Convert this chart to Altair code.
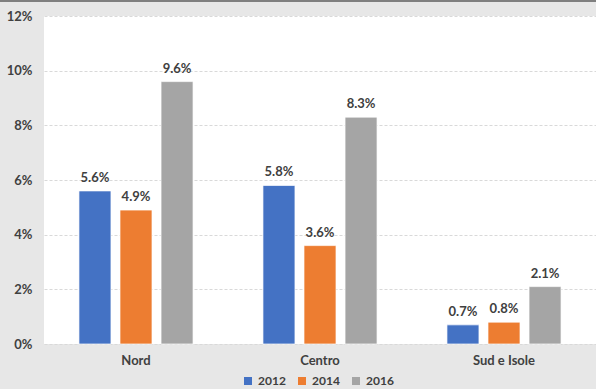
import altair as alt
import pandas as pd

regions = ["Nord", "Centro", "Sud e Isole"]
years = ["2012", "2014", "2016"]
v2012 = [5.6, 5.8, 0.7]
v2014 = [4.9, 3.6, 0.8]
v2016 = [9.6, 8.3, 2.1]
colors = ["#4472C4", "#ED7D31", "#A5A5A5"]

rows = []
for i, r in enumerate(regions):
    for y, vals in zip(years, [v2012, v2014, v2016]):
        rows.append({"region": r, "year": y, "value": vals[i] / 100.0,
                     "label": f"{vals[i]:.1f}%"})
df = pd.DataFrame(rows)

FONT = "Lato"
x = alt.X("region:N", sort=regions, title=None,
          scale=alt.Scale(paddingInner=0.38, paddingOuter=0.19),
          axis=alt.Axis(labelAngle=0, ticks=False, domain=False, labelPadding=10,
                        labelFont=FONT, labelFontSize=13, labelFontWeight="bold",
                        labelColor="#404040"))
xo = alt.XOffset("year:N", sort=years, scale=alt.Scale(paddingInner=0.22, paddingOuter=0))
y = alt.Y("value:Q", title=None,
          scale=alt.Scale(domain=[0, 0.12], nice=False),
          axis=alt.Axis(format=".0%", values=[0, 0.02, 0.04, 0.06, 0.08, 0.10, 0.12],
                        ticks=False, domain=False, labelPadding=12,
                        labelFont=FONT, labelFontSize=13, labelFontWeight="bold",
                        labelColor="#404040",
                        gridColor="#d9d9d9", gridDash=[3, 2], gridWidth=1))

base = alt.Chart(df)
bars = base.mark_bar(stroke="white", strokeWidth=0.7).encode(
    x=x, xOffset=xo, y=y,
    color=alt.Color("year:N", sort=years,
                    scale=alt.Scale(domain=years, range=colors),
                    legend=alt.Legend(title=None, orient="none", direction="horizontal",
                                      legendX=198, legendY=359, symbolType="square",
                                      symbolSize=64, symbolStrokeWidth=0,
                                      labelFont=FONT, labelFontSize=12,
                                      labelFontWeight="bold", labelColor="#404040",
                                      columnPadding=10, symbolOffset=0)))
text = base.mark_text(baseline="bottom", dy=-6, font=FONT, fontSize=13,
                      fontWeight="bold", color="#404040").encode(
    x=x, xOffset=xo, y=y, text="label:N")
border = alt.Chart(pd.DataFrame({"a": [0]})).mark_rule(color="#7f7f7f", strokeWidth=2).encode(
    x=alt.value(-44), x2=alt.value(560), y=alt.value(-15))

chart = alt.layer(bars, text, border).properties(
    width=552, height=328,
    background="#e7e7e7",
    padding={"left": 44, "top": 16, "right": 0, "bottom": 45},
    autosize=alt.AutoSizeParams(type="none"),
).configure_view(fill="white", stroke=None)

chart.save("out.html", embed_options={"renderer": "svg", "actions": False})
